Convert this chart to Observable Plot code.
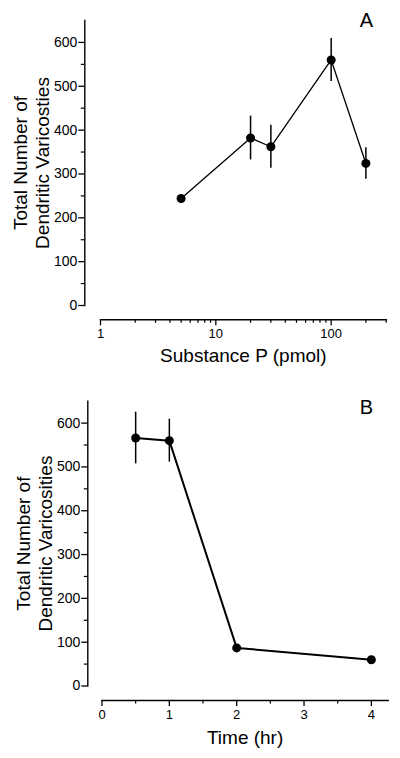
<!DOCTYPE html>
<html><head><meta charset="utf-8">
<script src="https://cdn.jsdelivr.net/npm/d3@7"></script>
<script src="https://cdn.jsdelivr.net/npm/@observablehq/plot@0.6"></script>
<style>
body{margin:0;background:#fff;}
#chart{width:400px;}
#chart svg{display:block;}
#chart g[aria-label="y-axis tick label"]{font-size:14px;}
#chart g[aria-label="x-axis tick label"]{font-size:13px;}
</style></head><body><div id="chart"></div>
<script>
// Panel A data
const doseA = [5, 20, 30, 100, 200];
const countA = [244, 382, 362, 560, 324];
const errA = [0, 50, 49, 49, 36];
// Panel B data
const timeB = [0.5, 1, 2, 4];
const countB = [566, 560, 87, 60];
const errB = [59, 49, 0, 0];
// ticks & labels
const yMajor = [0, 100, 200, 300, 400, 500, 600];
const yMinor = [50, 150, 250, 350, 450, 550];
const xMajorA = [1, 10, 100];
const xMinorA = [2, 3, 4, 5, 6, 7, 8, 9, 20, 30, 40, 50, 60, 70, 80, 90, 200, 300];
const xMajorB = [0, 1, 2, 3, 4];
const xMinorB = [0.5, 1.5, 2.5, 3.5];
const yLabelA = "Total Number of\nDendritic Varicosties";
const yLabelB = "Total Number of\nDendritic Varicosities";
const xLabelA = "Substance P (pmol)";
const xLabelB = "Time (hr)";
const letterA = "A";
const letterB = "B";

const FONT = "Liberation Sans, Arial, Helvetica, sans-serif";

function panel(o) {
  const data = o.xs.map((x, i) => ({x, y: o.ys[i], e: o.es[i]}));
  const yDomain = [0, 650];
  const yMid = (yDomain[0] + yDomain[1]) / 2;
  return Plot.plot({
    width: 400,
    height: o.height,
    marginTop: o.mt, marginBottom: o.mb, marginLeft: o.ml, marginRight: o.mr,
    style: {fontFamily: FONT, color: "#000", background: "#fff"},
    x: {type: o.xType, domain: o.xDomain, insetLeft: o.insetLeft},
    y: {domain: yDomain, insetBottom: o.insetBottom},
    marks: [
      Plot.frame({anchor: "left", insetBottom: o.insetBottom, strokeWidth: 1.4}),
      Plot.frame({anchor: "bottom", insetLeft: o.insetLeft, strokeWidth: 1.4}),
      Plot.axisY({ticks: yMajor, tickSize: 6, tickPadding: 1.5, fontSize: 14, tickFormat: d => String(d), label: null, strokeWidth: 1.3}),
      Plot.axisY({ticks: yMinor, tickSize: 3.5, text: null, label: null, strokeWidth: 1.2}),
      Plot.axisX({ticks: o.xMajor, tickSize: 6, tickPadding: 3, fontSize: 13, tickFormat: d => String(d), label: null, strokeWidth: 1.3}),
      Plot.axisX({ticks: o.xMinor, tickSize: 3.5, text: null, label: null, strokeWidth: 1.2}),
      Plot.text([o.yLabel], {y: () => yMid, frameAnchor: "left", rotate: -90, dx: o.yLabelDx, fontSize: 19, lineHeight: 1.2, textAnchor: "middle", lineAnchor: "middle"}),
      Plot.text([o.xLabel], {x: () => o.xMid, frameAnchor: "bottom", lineAnchor: "bottom", dy: o.xLabelDy, fontSize: 19}),
      Plot.text([o.letter], {frameAnchor: "top-right", lineAnchor: "bottom", dx: o.letterDx, dy: o.letterDy, fontSize: 20, textAnchor: "middle"}),
      Plot.ruleX(data.filter(d => d.e > 0), {x: "x", y1: d => d.y - d.e, y2: d => d.y + d.e, strokeWidth: 1.5}),
      Plot.line(data, {x: "x", y: "y", strokeWidth: o.lineW}),
      Plot.dot(data, {x: "x", y: "y", r: 4.5, fill: "#000", stroke: "none"})
    ]
  });
}

const chart = document.getElementById("chart");
chart.append(panel({
  height: 380, mt: 20, mb: 60.7, ml: 84.3, mr: 14.3, insetLeft: 15.7, insetBottom: 14.3,
  xType: "log", xDomain: [1, 300], xMid: Math.sqrt(1 * 300),
  xs: doseA, ys: countA, es: errA, xMajor: xMajorA, xMinor: xMinorA,
  yLabel: yLabelA, xLabel: xLabelA, letter: letterA,
  yLabelDx: -54, xLabelDy: 41.7, letterDx: -19.7, letterDy: 6, lineW: 1.3
}));
chart.append(panel({
  height: 378, mt: 20.7, mb: 58, ml: 87.3, mr: 12.3, insetLeft: 14.2, insetBottom: 14.5,
  xType: "linear", xDomain: [0, 4.25], xMid: 2.125,
  xs: timeB, ys: countB, es: errB, xMajor: xMajorB, xMinor: xMinorB,
  yLabel: yLabelB, xLabel: xLabelB, letter: letterB,
  yLabelDx: -54, xLabelDy: 43.3, letterDx: -21.7, letterDy: 12.3, lineW: 2
}));
</script></body></html>
